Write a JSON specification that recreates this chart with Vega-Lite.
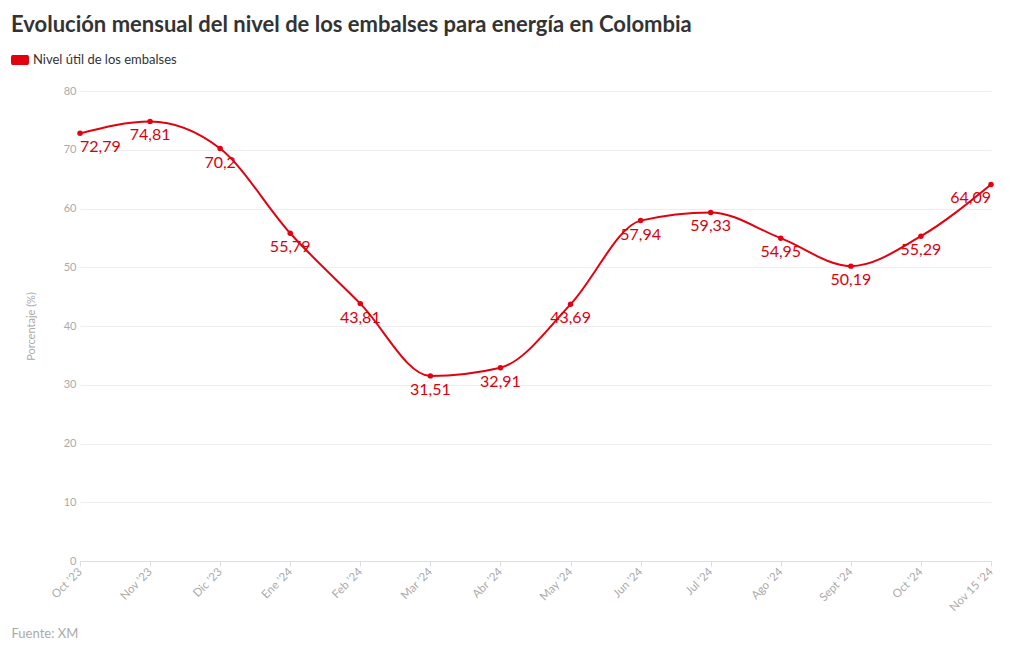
{
  "$schema": "https://vega.github.io/schema/vega-lite/v6.json",
  "autosize": {"type": "none"},
  "width": 911,
  "height": 470,
  "padding": {"left": 80, "top": 91, "right": 29, "bottom": 89},
  "background": "white",
  "config": {
    "font": "Lato",
    "view": {"stroke": null},
    "locale": {"number": {"decimal": ",", "thousands": ".", "grouping": [3], "currency": ["", ""]}}
  },
  "title": {
    "text": "Evolución mensual del nivel de los embalses para energía en Colombia",
    "anchor": "start",
    "frame": "group",
    "dx": -69,
    "offset": 14,
    "fontSize": 22,
    "fontWeight": "bold",
    "color": "#333333",
    "font": "Lato"
  },
  "data": {
    "values": [
      {"mes": "Oct '23", "valor": 72.79, "serie": "Nivel útil de los embalses"},
      {"mes": "Nov '23", "valor": 74.81, "serie": "Nivel útil de los embalses"},
      {"mes": "Dic '23", "valor": 70.2, "serie": "Nivel útil de los embalses"},
      {"mes": "Ene '24", "valor": 55.79, "serie": "Nivel útil de los embalses"},
      {"mes": "Feb '24", "valor": 43.81, "serie": "Nivel útil de los embalses"},
      {"mes": "Mar '24", "valor": 31.51, "serie": "Nivel útil de los embalses"},
      {"mes": "Abr '24", "valor": 32.91, "serie": "Nivel útil de los embalses"},
      {"mes": "May '24", "valor": 43.69, "serie": "Nivel útil de los embalses"},
      {"mes": "Jun '24", "valor": 57.94, "serie": "Nivel útil de los embalses"},
      {"mes": "Jul '24", "valor": 59.33, "serie": "Nivel útil de los embalses"},
      {"mes": "Ago '24", "valor": 54.95, "serie": "Nivel útil de los embalses"},
      {"mes": "Sept '24", "valor": 50.19, "serie": "Nivel útil de los embalses"},
      {"mes": "Oct '24", "valor": 55.29, "serie": "Nivel útil de los embalses"},
      {"mes": "Nov 15 '24", "valor": 64.09, "serie": "Nivel útil de los embalses"}
    ]
  },
  "encoding": {
    "x": {
      "field": "mes",
      "type": "ordinal",
      "sort": null,
      "scale": {"type": "point", "padding": 0},
      "axis": {
        "title": "Fuente: XM",
        "titleX": -69,
        "titleY": 72,
        "titleAlign": "left",
        "titleBaseline": "middle",
        "titleAnchor": "start",
        "titleFontSize": 13,
        "titleFontWeight": "normal",
        "titleColor": "#aaaaaa",
        "labelAngle": -45,
        "labelAlign": "right",
        "labelBaseline": "middle",
        "labelFontSize": 11.5,
        "labelColor": "#aaaaaa",
        "labelPadding": 4,
        "tickColor": "#dddddd",
        "tickSize": 5,
        "domainColor": "#dddddd",
        "grid": false
      }
    },
    "y": {
      "field": "valor",
      "type": "quantitative",
      "scale": {"domain": [0, 80]},
      "axis": {
        "title": "Porcentaje (%)",
        "titleFontSize": 11,
        "titleFontWeight": "normal",
        "titleColor": "#aaaaaa",
        "titlePadding": 27,
        "values": [0, 10, 20, 30, 40, 50, 60, 70, 80],
        "labelFontSize": 11,
        "labelColor": "#aaaaaa",
        "labelPadding": 4,
        "ticks": false,
        "domain": false,
        "gridColor": "#eeeeee"
      }
    }
  },
  "layer": [
    {
      "mark": {"type": "line", "interpolate": "monotone", "strokeWidth": 2},
      "encoding": {
        "color": {
          "field": "serie",
          "type": "nominal",
          "scale": {"range": ["#e3000f"]},
          "legend": {
            "title": null,
            "orient": "none",
            "legendX": -69,
            "legendY": -40,
            "symbolType": "M-1,-0.3C-1,-0.55 -0.85,-0.55 -0.75,-0.55H0.75C0.85,-0.55 1,-0.55 1,-0.3V0.3C1,0.55 0.85,0.55 0.75,0.55H-0.75C-0.85,0.55 -1,0.55 -1,0.3Z",
            "symbolSize": 324,
            "symbolStrokeWidth": 0,
            "symbolFillColor": "#e3000f",
            "labelFontSize": 13,
            "labelColor": "#333333",
            "labelOffset": 4
          }
        }
      }
    },
    {
      "mark": {"type": "point", "filled": true, "size": 30, "opacity": 1, "color": "#e3000f"}
    },
    {
      "transform": [{"filter": "datum.mes !== \"Oct '23\" && datum.mes !== \"Nov 15 '24\""}],
      "mark": {"type": "text", "align": "center", "baseline": "top", "dy": 6, "fontSize": 16, "color": "#d9000d"},
      "encoding": {"text": {"field": "valor", "type": "quantitative", "format": ".2~f"}}
    },
    {
      "transform": [{"filter": "datum.mes === \"Oct '23\""}],
      "mark": {"type": "text", "align": "left", "baseline": "top", "dy": 6, "fontSize": 16, "color": "#d9000d"},
      "encoding": {"text": {"field": "valor", "type": "quantitative", "format": ".2~f"}}
    },
    {
      "transform": [{"filter": "datum.mes === \"Nov 15 '24\""}],
      "mark": {"type": "text", "align": "right", "baseline": "top", "dy": 6, "fontSize": 16, "color": "#d9000d"},
      "encoding": {"text": {"field": "valor", "type": "quantitative", "format": ".2~f"}}
    }
  ]
}
